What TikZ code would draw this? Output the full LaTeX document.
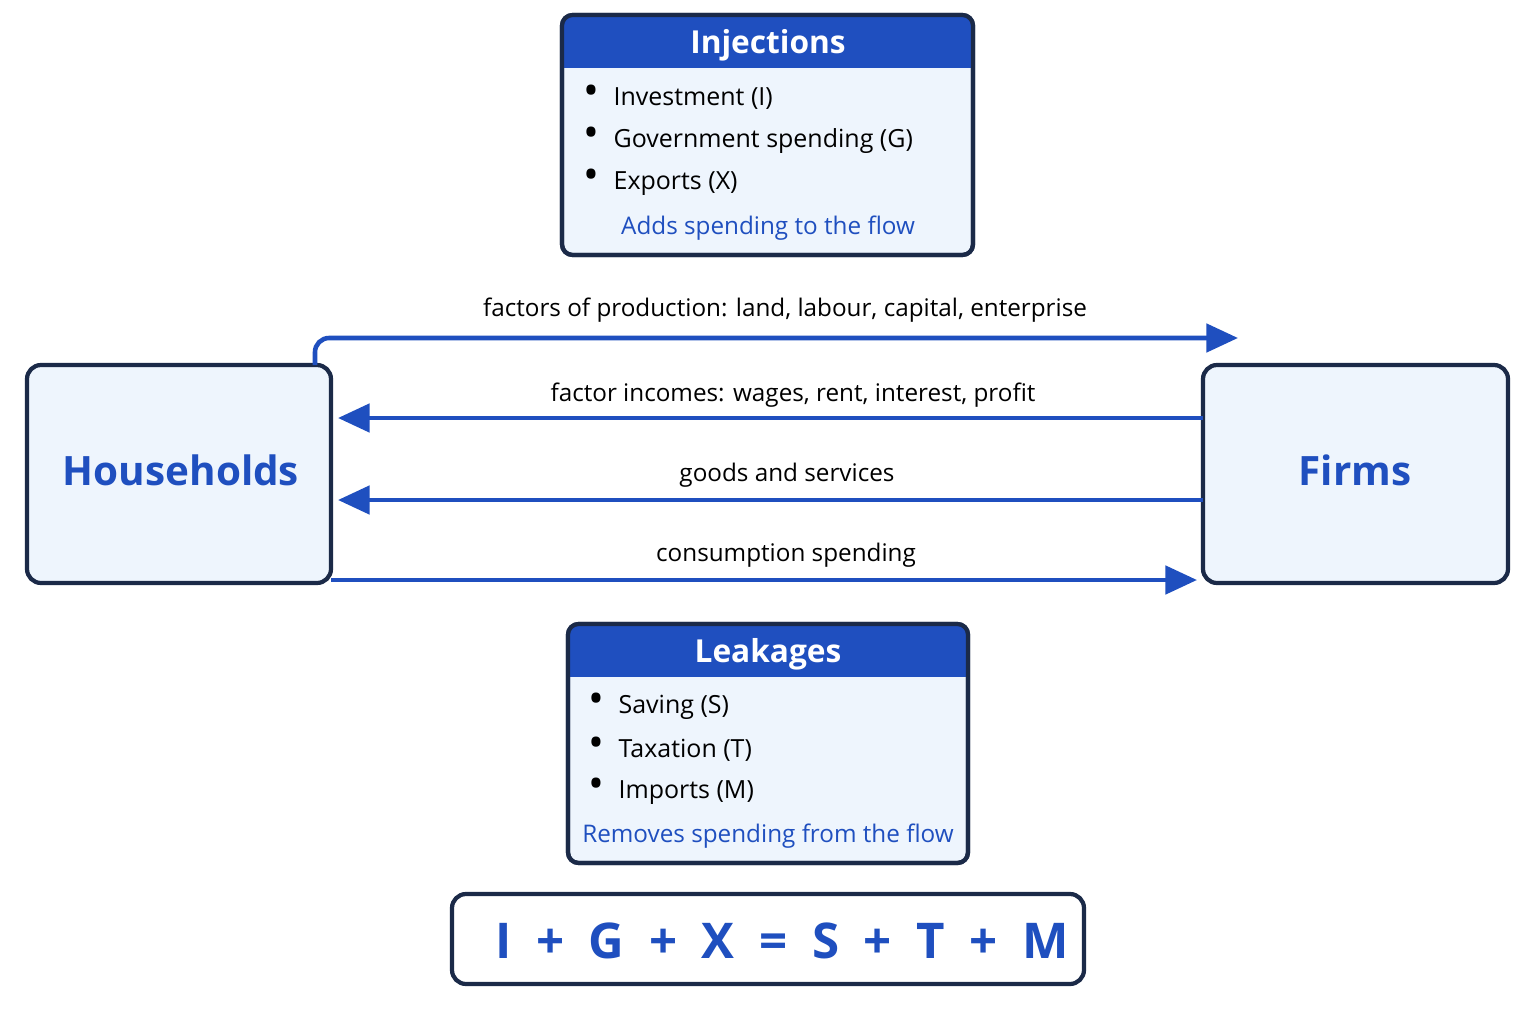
\documentclass[tikz,border=0pt]{standalone}
\usepackage{fontspec}
\setmainfont{Open Sans}
\usetikzlibrary{positioning, arrows.meta}

\definecolor{flowblue}{HTML}{1F4FBF}
\definecolor{boxfill}{HTML}{EEF5FD}
\definecolor{boxline}{HTML}{1B2A48}

\begin{document}
\begin{tikzpicture}[x=0.01cm, y=-0.01cm,
    sector/.style = {draw=boxline, line width=1.2pt, fill=boxfill, rounded corners=4pt},
    panel/.style = {draw=boxline, line width=1.2pt, fill=boxfill, rounded corners=3pt},
    flow/.style = {draw=flowblue, line width=1.3pt, -{Triangle[length=9pt, width=8pt]}},
    flowlabel/.style = {font=\fontsize{6.9}{9}\selectfont, text=black},
    item/.style = {font=\fontsize{7.1}{9}\selectfont, anchor=west, inner sep=0pt}
  ]
  \useasboundingbox (0,0) rectangle (1536,1024);

  % sectors
  \draw[sector] (27,365) rectangle (331,583);
  \draw[sector] (1203,365) rectangle (1508,583);
  \node[text=flowblue, font=\fontsize{11.5}{14}\selectfont\bfseries] (hh) at (181,470) {Households};
  \node[text=flowblue, font=\fontsize{11.5}{14}\selectfont\bfseries] (firms) at (1355,470) {Firms};
  \coordinate (hhtop) at (315,365);
  \coordinate (fpin) at (1238,338);
  \coordinate (hhr1) at (338,418);
  \coordinate (hhr2) at (338,500);
  \coordinate (hhr3) at (331,580);
  \coordinate (ff1) at (1203,418);
  \coordinate (ff2) at (1203,500);
  \coordinate (fpin2) at (1197,580);

  % flows
  \draw[flow, rounded corners=4pt] (hhtop) -- (315,338) -- (fpin);
  \draw[flow] (ff1) -- (hhr1);
  \draw[flow] (ff2) -- (hhr2);
  \draw[flow] (hhr3) -- (fpin2);
  \node[flowlabel] (l1) at (785,310) {factors of production: land, labour, capital, enterprise};
  \node[flowlabel] (l2) at (793,395) {factor incomes: wages, rent, interest, profit};
  \node[flowlabel] (l3) at (787,475) {goods and services};
  \node[flowlabel] (l4) at (786,555) {consumption spending};

  % injections
  \draw[panel] (562,15) rectangle (973,255);
  \begin{scope}
    \clip[rounded corners=3pt] (562,15) rectangle (973,255);
    \fill[flowblue] (562,15) rectangle (973,68);
  \end{scope}
  \draw[boxline, line width=1.2pt, rounded corners=3pt] (562,15) rectangle (973,255);
  \node[text=white, font=\fontsize{9}{11}\selectfont\bfseries] (inj) at (768,45) {Injections};
  \node[item] (i1) at (583,97) {{\large\textbullet}\hspace{4pt}Investment (I)};
  \node[item] (i2) at (583,140) {{\large\textbullet}\hspace{4pt}Government spending (G)};
  \node[item] (i3) at (583,182) {{\large\textbullet}\hspace{4pt}Exports (X)};
  \node[text=flowblue, font=\fontsize{6.9}{9}\selectfont] (inote) at (768,228) {Adds spending to the flow};

  % leakages
  \draw[panel] (568,624) rectangle (968,863);
  \begin{scope}
    \clip[rounded corners=3pt] (568,624) rectangle (968,863);
    \fill[flowblue] (568,624) rectangle (968,677);
  \end{scope}
  \draw[boxline, line width=1.2pt, rounded corners=3pt] (568,624) rectangle (968,863);
  \node[text=white, font=\fontsize{9}{11}\selectfont\bfseries] (leak) at (768,654) {Leakages};
  \node[item] (k1) at (588,706) {{\large\textbullet}\hspace{4pt}Saving (S)};
  \node[item] (k2) at (588,749) {{\large\textbullet}\hspace{4pt}Taxation (T)};
  \node[item] (k3) at (588,791) {{\large\textbullet}\hspace{4pt}Imports (M)};
  \node[text=flowblue, font=\fontsize{6.9}{9}\selectfont] (knote) at (768,836) {Removes spending from the flow};

  % equation
  \draw[line width=1.2pt, draw=boxline, fill=white, rounded corners=4pt] (452,894) rectangle (1084,984);
  \node[text=flowblue, font=\fontsize{14}{17}\selectfont\bfseries] (eq) at (782,941)
    {I\hspace{7pt}+\hspace{7pt}G\hspace{7pt}+\hspace{7pt}X\hspace{7pt}=\hspace{7pt}S\hspace{7pt}+\hspace{7pt}T\hspace{7pt}+\hspace{7pt}M};
\end{tikzpicture}
\end{document}
